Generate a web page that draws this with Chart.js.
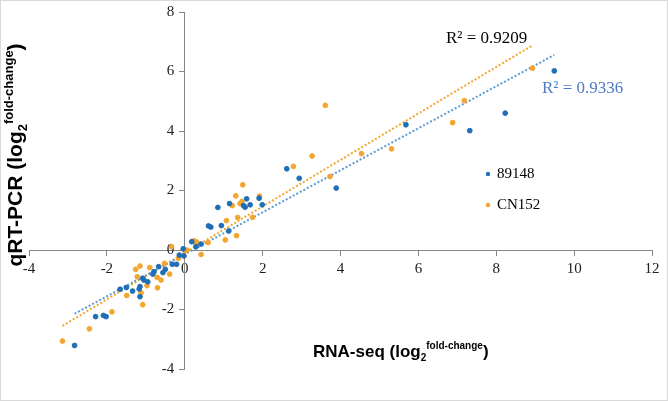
<!DOCTYPE html>
<html lang="en">
  <head>
    <meta charset="UTF-8" />
    <title>qRT-PCR vs RNA-seq</title>
    <script src="https://cdn.jsdelivr.net/npm/chart.js@4.4.0/dist/chart.umd.min.js"></script>
    <style>
      html, body { margin: 0; padding: 0; background: #fff; }
      #wrap { width: 668px; height: 401px; }
    </style>
  </head>
  <body>
    <div id="wrap"><canvas id="myChart" width="668" height="401"></canvas></div>

    <script>
      // log2 fold-change, RNA-seq (x) vs qRT-PCR (y)
      const rnaSeq89148 = [9.49, 8.23, 7.32, 5.68, 3.89, 2.94, 2.62, 1.99, 1.91, 1.68, 1.59, 1.55, 1.51, 1.15, 1.13,
        0.85, 0.94, 0.61, 0.67, 0.42, 0.18, 0.29, -0.04, -0.02, -0.14, -0.21, -0.32, -0.50, -0.56, -0.67,
        -0.79, -0.82, -0.95, -1.05, -1.08, -1.15, -1.17, -1.15, -1.34, -1.50, -1.66, -2.29, -2.09, -2.02, -2.83];
      const qpcr89148 = [6.02, 4.60, 4.01, 4.21, 2.08, 2.41, 2.73, 1.52, 1.74, 1.52, 1.72, 1.44, 1.49, 1.56, 0.64,
        1.43, 0.82, 0.81, 0.77, 0.20, 0.28, 0.11, 0.04, -0.20, -0.17, -0.48, -0.48, -0.65, -0.76, -0.56,
        -0.73, -0.81, -1.07, -1.01, -0.95, -1.23, -1.31, -1.57, -1.38, -1.26, -1.32, -2.24, -2.20, -2.24, -3.21];

      const rnaSeqCN152 = [8.93, 7.18, 6.88, 5.31, 4.54, 3.73, 3.61, 3.27, 2.79, 1.74, 1.92, 1.49, 1.31, 1.47, 1.42,
        1.22, 1.36, 1.33, 1.07, 1.04, 0.60, 0.31, 0.24, 0.29, 0.42, 0.05, 0.01, -0.16, -0.34, -0.39,
        -0.52, -0.61, -0.71, -0.70, -0.90, -0.97, -1.15, -1.26, -1.22, -1.12, -1.08, -1.49, -1.87, -2.45, -3.14];
      const qpcrCN152 = [6.11, 5.02, 4.28, 3.40, 3.24, 2.47, 4.86, 3.16, 2.81, 1.10, 1.81, 2.19, 1.82, 1.63, 1.56,
        1.49, 1.09, 0.48, 0.99, 0.34, 0.25, 0.26, 0.31, 0.19, -0.15, 0.00, -0.03, -0.28, 0.11, -0.81,
        -0.45, -1.01, -0.92, -1.27, -0.59, -1.20, -0.54, -0.65, -0.90, -1.44, -1.84, -1.53, -2.08, -2.65, -3.06];

      const seriesNames = ['89148', 'CN152'];
      const rSquared = ['R² = 0.9336', 'R² = 0.9209'];
      const xTicks = [-4, -2, 0, 2, 4, 6, 8, 10, 12];
      const yTicks = [-4, -2, 0, 2, 4, 6, 8];

      const BLUE = '#1f6fb6';
      const BLUE_LINE = '#5b9bd5';
      const ORANGE = '#f4a530';

      function toPoints(xs, ys) {
        return xs.map((x, i) => ({ x: x, y: ys[i] }));
      }

      // least squares trendline across the x range of the series
      function trend(xs, ys) {
        const n = xs.length;
        const mx = xs.reduce((a, b) => a + b, 0) / n;
        const my = ys.reduce((a, b) => a + b, 0) / n;
        let sxy = 0, sxx = 0;
        for (let i = 0; i < n; i++) {
          sxy += (xs[i] - mx) * (ys[i] - my);
          sxx += (xs[i] - mx) * (xs[i] - mx);
        }
        const b = sxy / sxx;
        const a = my - b * mx;
        const lo = Math.min(...xs), hi = Math.max(...xs);
        return [{ x: lo, y: a + b * lo }, { x: hi, y: a + b * hi }];
      }

      function drawText(ctx, parts, x, y) {
        // parts: [text, font, dy]
        let cx = x;
        parts.forEach(p => {
          ctx.font = p[1];
          ctx.fillText(p[0], cx, y + p[2]);
          cx += ctx.measureText(p[0]).width;
        });
        return cx - x;
      }

      function measure(ctx, parts) {
        let w = 0;
        parts.forEach(p => { ctx.font = p[1]; w += ctx.measureText(p[0]).width; });
        return w;
      }

      const overlay = {
        id: 'overlay',
        afterDraw(chart) {
          const ctx = chart.ctx;
          ctx.save();
          ctx.textBaseline = 'middle';
          ctx.textAlign = 'left';

          // R² labels
          ctx.font = '17px "Liberation Serif", "Times New Roman", serif';
          ctx.fillStyle = '#000';
          ctx.fillText(rSquared[1], 446, 39);
          ctx.fillStyle = '#4f7ac7';
          ctx.fillText(rSquared[0], 542, 89);

          // legend
          ctx.font = '15px "Liberation Serif", "Times New Roman", serif';
          [[BLUE, seriesNames[0], 174], [ORANGE, seriesNames[1], 205]].forEach(l => {
            ctx.beginPath();
            ctx.fillStyle = l[0];
            ctx.arc(488, l[2], 2.2, 0, Math.PI * 2);
            ctx.fill();
            ctx.fillStyle = '#000';
            ctx.fillText(l[1], 497, l[2]);
          });

          // axis titles
          const big = 'bold 17px "Liberation Sans", Arial, sans-serif';
          const small = 'bold 10px "Liberation Sans", Arial, sans-serif';
          const xParts = [['RNA-seq (log', big, 0], ['2', small, 6], ['fold-change', small, -6], [')', big, 0]];
          ctx.fillStyle = '#000';
          drawText(ctx, xParts, 313, 352);

          const bigY = 'bold 21px "Liberation Sans", Arial, sans-serif';
          const smallY = 'bold 13px "Liberation Sans", Arial, sans-serif';
          const yParts = [['qRT-PCR (log', bigY, 0], ['2', smallY, 7], ['fold-change', smallY, -7], [')', bigY, 0]];
          const w = measure(ctx, yParts);
          ctx.translate(16, 155);
          ctx.rotate(-Math.PI / 2);
          drawText(ctx, yParts, -w / 2, 0);
          ctx.restore();

          // outer frame
          ctx.save();
          ctx.strokeStyle = '#d9d9d9';
          ctx.lineWidth = 1;
          ctx.strokeRect(0.5, 0.5, chart.width - 1, chart.height - 1);
          ctx.restore();
        }
      };

      const dotted = {
        type: 'line',
        showLine: true,
        pointRadius: 0,
        borderWidth: 2,
        borderDash: [2, 2],
        fill: false,
        order: 2
      };

      const tickFont = { family: '"Liberation Serif", "Times New Roman", serif', size: 15 };

      const ctx = document.getElementById('myChart').getContext('2d');
      new Chart(ctx, {
        type: 'scatter',
        data: {
          datasets: [
            {
              label: seriesNames[0],
              data: toPoints(rnaSeq89148, qpcr89148),
              backgroundColor: BLUE,
              borderColor: BLUE,
              pointRadius: 2.4,
              order: 1
            },
            {
              label: seriesNames[1],
              data: toPoints(rnaSeqCN152, qpcrCN152),
              backgroundColor: ORANGE,
              borderColor: ORANGE,
              pointRadius: 2.4,
              order: 1
            },
            Object.assign({ label: 'trend 89148', data: trend(rnaSeq89148, qpcr89148), borderColor: BLUE_LINE }, dotted),
            Object.assign({ label: 'trend CN152', data: trend(rnaSeqCN152, qpcrCN152), borderColor: ORANGE }, dotted)
          ]
        },
        options: {
          responsive: false,
          animation: false,
          layout: { padding: { left: 29, right: 16, top: 12, bottom: 32 } },
          plugins: { legend: { display: false }, tooltip: { enabled: false } },
          scales: {
            x: {
              type: 'linear',
              min: -4,
              max: 12,
              position: { y: 0 },
              afterFit: s => { s.height = 0; s.paddingLeft = 0; s.paddingRight = 0; },
              afterBuildTicks: s => { s.ticks = xTicks.map(v => ({ value: v })); },
              grid: { drawOnChartArea: false, drawTicks: true, tickLength: 5, color: '#868686' },
              border: { color: '#868686', width: 1 },
              ticks: { font: tickFont, color: '#222', padding: 5, maxRotation: 0 }
            },
            y: {
              type: 'linear',
              min: -4,
              max: 8,
              position: { x: 0 },
              afterFit: s => { s.width = 0; s.paddingTop = 0; s.paddingBottom = 0; },
              afterBuildTicks: s => { s.ticks = yTicks.map(v => ({ value: v })); },
              grid: { drawOnChartArea: false, drawTicks: true, tickLength: 5, color: '#868686' },
              border: { color: '#868686', width: 1 },
              ticks: {
                font: tickFont,
                color: '#222',
                padding: 3,
                callback: v => v + '\u2002\u2009'
              }
            }
          }
        },
        plugins: [overlay]
      });
    </script>
  </body>
</html>
